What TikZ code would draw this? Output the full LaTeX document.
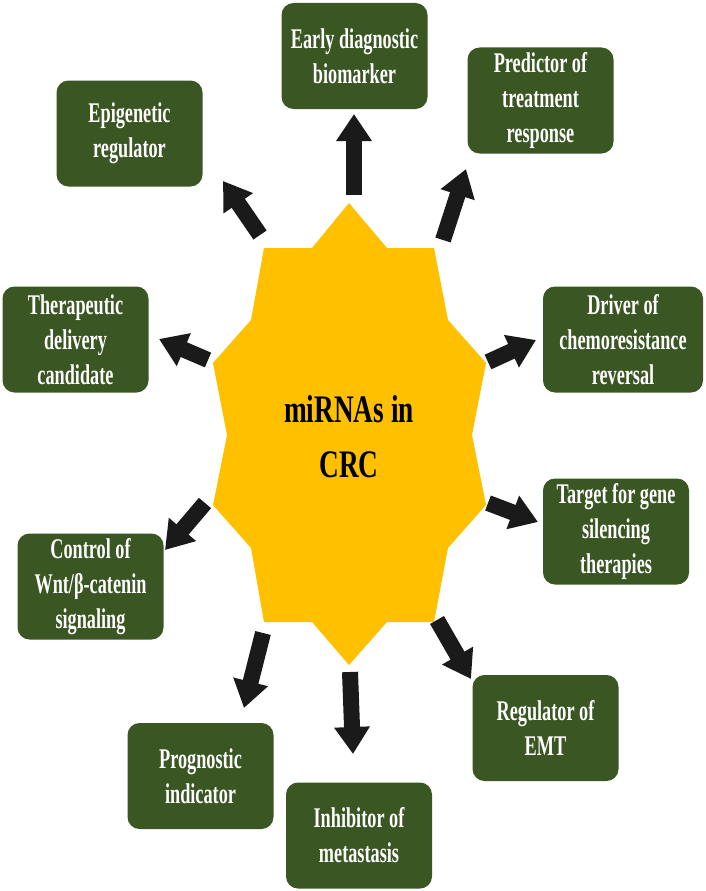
\documentclass[tikz,border=0pt]{standalone}
\usepackage{fontspec}
\usetikzlibrary{arrows.meta}
\newfontfamily\labfont{Liberation Serif}[FakeStretch=0.64]
\newfontfamily\ctrfont{Liberation Serif}[FakeStretch=0.70]
\definecolor{stargold}{HTML}{FFC000}
\definecolor{boxgreen}{HTML}{3A5623}
\definecolor{arrowblack}{HTML}{1A1A1A}
\tikzset{
  greenbox/.style={fill=boxgreen, rounded corners=12pt, text=white, align=center,
    minimum width=146pt, minimum height=106pt, inner sep=0pt,
    font=\labfont\bfseries\fontsize{28.5}{35}\selectfont},
  blockarrow/.style={draw=arrowblack, line width=16pt,
    -{Triangle[width=34pt,length=27pt]}},
  centertext/.style={align=center, text=black,
    font=\ctrfont\bfseries\fontsize{39}{55}\selectfont}
}
\begin{document}
\begin{tikzpicture}[x=1pt,y=-1pt]
\useasboundingbox (0,0) rectangle (706,891);
% central star
\fill[stargold] (349,203) -- (387,248) -- (434,248) -- (448,320) -- (486,363)
  -- (472,435) -- (486,505) -- (448,548) -- (434,622) -- (387,622) -- (349,665)
  -- (312,622) -- (264,622) -- (251,548) -- (213,505) -- (227,435) -- (213,363)
  -- (251,320) -- (264,248) -- (312,248) -- cycle;
\node[centertext] (center) at (349,437) {miRNAs in\\CRC};
% boxes
\node[greenbox] (early) at (354.5,56) {Early diagnostic\\biomarker};
\node[greenbox] (pred) at (540.5,100.5) {Predictor of\\treatment\\response};
\node[greenbox] (epi) at (129.5,133.5) {Epigenetic\\regulator};
\node[greenbox] (thera) at (75.5,339.5) {Therapeutic\\delivery\\candidate};
\node[greenbox, minimum width=160pt] (driver) at (623,339.5) {Driver of\\chemoresistance\\reversal};
\node[greenbox] (target) at (616,531.5) {Target for gene\\silencing\\therapies};
\node[greenbox] (wnt) at (90.5,586.5) {Control of\\Wnt/β-catenin\\signaling};
\node[greenbox] (emt) at (545.5,728) {Regulator of\\EMT};
\node[greenbox] (prog) at (200.5,776) {Prognostic\\indicator};
\node[greenbox] (inhib) at (359,835.5) {Inhibitor of\\metastasis};
% arrow ends
\coordinate (t1) at (354,195); \coordinate (h1) at (354,114);
\coordinate (t2) at (443,240); \coordinate (h2) at (466,169);
\coordinate (t3) at (260,235); \coordinate (h3) at (223,181);
\coordinate (t4) at (208,360); \coordinate (h4) at (159,339);
\coordinate (t5) at (205,503); \coordinate (h5) at (165,550);
\coordinate (t6) at (488,362); \coordinate (h6) at (536,340);
\coordinate (t7) at (488,503); \coordinate (h7) at (538,522);
\coordinate (t8) at (437,620); \coordinate (h8) at (471,679);
\coordinate (t9) at (263,633); \coordinate (h9) at (244,708);
\coordinate (t10) at (350,672); \coordinate (h10) at (353,754);
\foreach \i in {1,...,10} {
  \draw[blockarrow] (t\i) -- (h\i);
}
\end{tikzpicture}
\end{document}
